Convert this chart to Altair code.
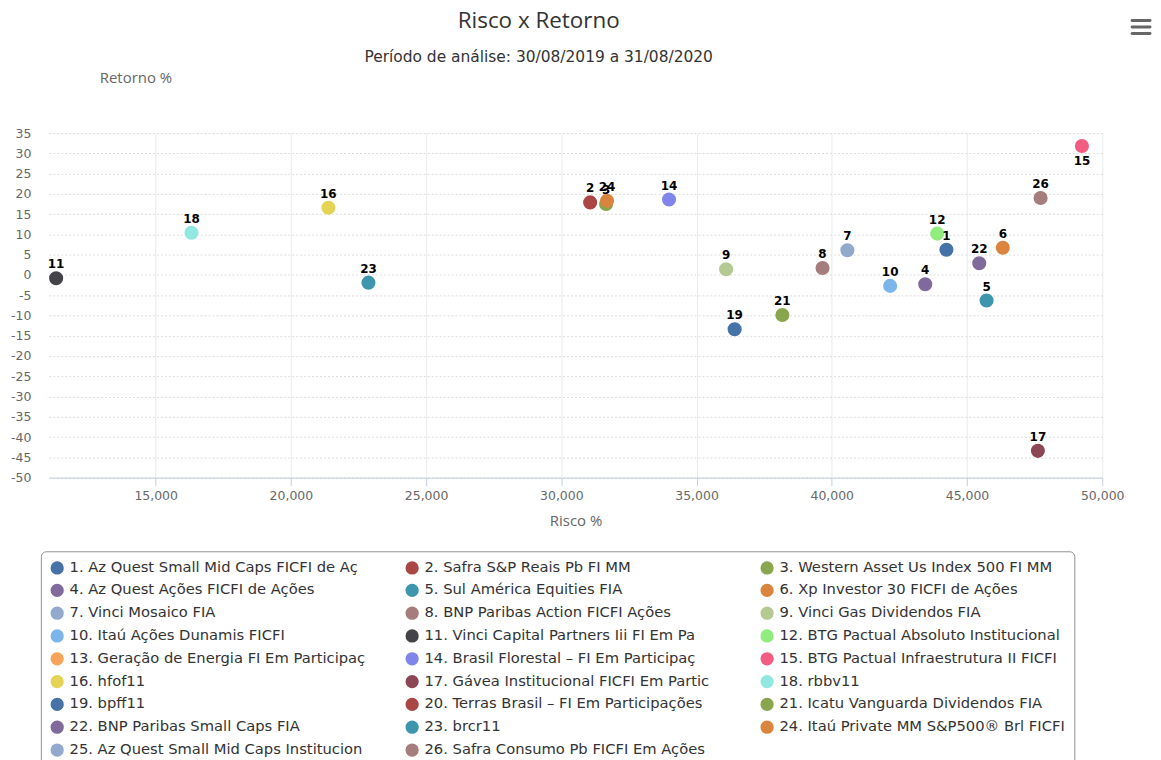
import altair as alt
import pandas as pd

legend_names = [
    "1. Az Quest Small Mid Caps FICFI de Aç",
    "2. Safra S&P Reais Pb FI MM",
    "3. Western Asset Us Index 500 FI MM",
    "4. Az Quest Ações FICFI de Ações",
    "5. Sul América Equities FIA",
    "6. Xp Investor 30 FICFI de Ações",
    "7. Vinci Mosaico FIA",
    "8. BNP Paribas Action FICFI Ações",
    "9. Vinci Gas Dividendos FIA",
    "10. Itaú Ações Dunamis FICFI",
    "11. Vinci Capital Partners Iii FI Em Pa",
    "12. BTG Pactual Absoluto Institucional",
    "13. Geração de Energia FI Em Participaç",
    "14. Brasil Florestal – FI Em Participaç",
    "15. BTG Pactual Infraestrutura II FICFI",
    "16. hfof11",
    "17. Gávea Institucional FICFI Em Partic",
    "18. rbbv11",
    "19. bpff11",
    "20. Terras Brasil – FI Em Participações",
    "21. Icatu Vanguarda Dividendos FIA",
    "22. BNP Paribas Small Caps FIA",
    "23. brcr11",
    "24. Itaú Private MM S&P500® Brl FICFI",
    "25. Az Quest Small Mid Caps Institucion",
    "26. Safra Consumo Pb FICFI Em Ações",
]

legend_colors = [
    "#4572A7", "#AA4643", "#89A54E", "#80699B", "#3D96AE", "#DB843D",
    "#92A8CD", "#A47D7C", "#B5CA92", "#7CB5EC", "#434348", "#90ED7D",
    "#F7A35C", "#8085E9", "#F15C80", "#E4D354", "#8D4653", "#91E8E1",
    "#4572A7", "#AA4643", "#89A54E", "#80699B", "#3D96AE", "#DB843D",
    "#92A8CD", "#A47D7C",
]

# visible points (13, 20 and 25 are not visible in the picture)
point_ids = [1, 2, 3, 4, 5, 6, 7, 8, 9, 10, 11, 12, 14, 15, 16, 17, 18, 19, 21, 22, 23, 24, 26]
risco = [44239, 31066, 31654, 43456, 45724, 46324, 40577, 39658, 36092, 42158,
         11320, 43897, 33982, 49250, 21386, 47621, 16324, 36408, 38173, 45453,
         22868, 31690, 47721]
retorno = [6.2, 17.9, 17.5, -2.3, -6.3, 6.7, 6.1, 1.7, 1.4, -2.7,
           -0.8, 10.2, 18.6, 31.8, 16.6, -43.4, 10.4, -13.4, -9.9, 2.9,
           -1.9, 18.3, 19.0]

x_ticks = [15000, 20000, 25000, 30000, 35000, 40000, 45000, 50000]
y_ticks = [35, 30, 25, 20, 15, 10, 5, 0, -5, -10, -15, -20, -25, -30, -35, -40, -45, -50]

df = pd.DataFrame({"id": point_ids, "risco": risco, "retorno": retorno})
df["nome"] = [legend_names[i - 1] for i in point_ids]
df["rotulo"] = df["id"].astype(str)

FONT = "DejaVu Sans"
TFONT = "Open Sans"
W, H = 1058, 346

x_enc = alt.X(
    "risco:Q",
    scale=alt.Scale(domain=[11050, 50000], nice=False, zero=False),
    axis=alt.Axis(
        values=x_ticks, format=",.0f", title="Risco %",
        titleFont=TFONT, titleFontSize=15, titleColor="#666666", titleFontWeight="normal",
        titleY=43, titleBaseline="middle",
        labelFont=FONT, labelFontSize=12.5, labelColor="#666666", labelPadding=4,
        tickSize=8, tickColor="#c0d0e0", domainColor="#c0d0e0",
        grid=True, gridColor="#e8ebef", labelFlush=False,
    ),
)
y_enc = alt.Y(
    "retorno:Q",
    scale=alt.Scale(domain=[-50, 35], nice=False, zero=False),
    axis=alt.Axis(
        values=y_ticks, labelExpr="toString(datum.value)",
        title="Retorno %", titleAngle=0, titleX=87, titleY=-56,
        titleAlign="center", titleBaseline="middle",
        titleFont=TFONT, titleFontSize=15, titleColor="#666666", titleFontWeight="normal",
        labelFont=FONT, labelFontSize=12.5, labelColor="#666666", labelPadding=18,
        domain=False, ticks=False, grid=True, gridDash=[2, 2], gridColor="#dcdcdc",
    ),
)

base = alt.Chart(df)

points = base.mark_circle(size=200, opacity=1).encode(
    x=x_enc,
    y=y_enc,
    color=alt.Color(
        "nome:N",
        scale=alt.Scale(domain=legend_names, range=legend_colors),
        legend=alt.Legend(
            title=None, orient="none", legendX=-8, legendY=420, columns=3,
            direction="horizontal", gridAlign="all",
            symbolType="circle", symbolSize=177, symbolStrokeWidth=0, symbolOpacity=1,
            labelFont=FONT, labelFontSize=14.8, labelColor="#333333", labelLimit=400,
            labelOffset=5, rowPadding=6.9, columnPadding=38.5, padding=9,
            strokeColor="#909090", cornerRadius=5,
        ),
    ),
    order=alt.Order("id:Q"),
)

labels = base.transform_filter("datum.id != 15").mark_text(
    font="DejaVu Sans", fontWeight="bold", fontSize=12, color="#000000",
    dy=-14, baseline="middle", align="center",
).encode(x=x_enc, y=y_enc, text="rotulo:N")

label_below = base.transform_filter("datum.id == 15").mark_text(
    font="DejaVu Sans", fontWeight="bold", fontSize=12, color="#000000",
    dy=15, baseline="middle", align="center",
).encode(x=x_enc, y=y_enc, text="rotulo:N")

menu_layers = []
for yy in (-113, -106.5, -100):
    menu_layers.append(
        alt.Chart(alt.Data(values=[{"k": 0}])).mark_rule(
            color="#666666", strokeWidth=3, strokeCap="round"
        ).encode(x=alt.value(1088), x2=alt.value(1106), y=alt.value(yy))
    )

chart = alt.layer(points, labels, label_below, *menu_layers).properties(
    width=W, height=H,
    title=alt.TitleParams(
        text="Risco x Retorno",
        subtitle="Período de análise: 30/08/2019 a 31/08/2020",
        anchor="middle", frame="group", dx=-37, dy=47, offset=0,
        font=TFONT, fontSize=22.5, fontWeight="normal", color="#333333",
        subtitleFont=FONT, subtitleFontSize=15.5, subtitleColor="#333333",
        subtitlePadding=18,
    ),
    autosize=alt.AutoSizeParams(type="none"),
    padding={"left": 41, "top": 124, "right": 51, "bottom": 282},
).configure_view(stroke=None)

chart.save("out.html", embed_options={"renderer": "svg", "actions": False})
